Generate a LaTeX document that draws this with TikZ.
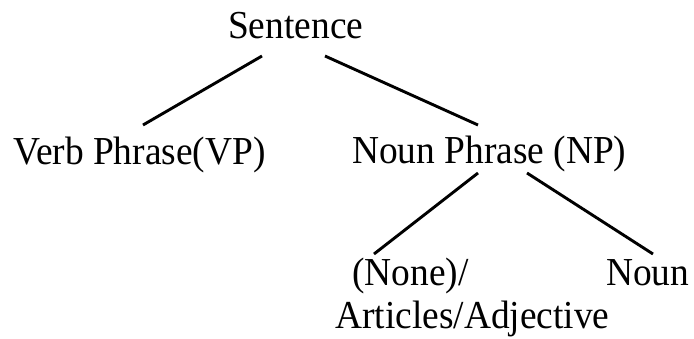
\documentclass[tikz,border=0pt]{standalone}
\usepackage{fontspec}
\usepackage{graphicx}
\setmainfont{Liberation Serif}
\newcommand{\tallt}[1]{\scalebox{1}[1.06]{#1}}
\begin{document}
\begin{tikzpicture}[x=1pt,y=-1pt,
  lbl/.style={anchor=base west,inner sep=0pt,font=\fontsize{37.4}{43}\selectfont},
  edge/.style={line width=2.9pt,black}]
\useasboundingbox (0,0) rectangle (694,338);
\node[lbl] (s) at (228,38) {\tallt{Sentence}};
\node[lbl] (vp) at (13,164) {\tallt{Verb Phrase(VP)}};
\node[lbl] (np) at (352,163) {\tallt{Noun Phrase (NP)}};
\node[lbl] (art) at (352,285) {\tallt{(None)/}};
\node[lbl] (adj) at (335,328) {\tallt{Articles/Adjective}};
\node[lbl] (noun) at (606,285) {\tallt{Noun}};
\draw[edge] ([shift={(34,18)}]s.base west) -- ([shift={(130,-39)}]vp.base west);
\draw[edge] ([shift={(97,18)}]s.base west) -- ([shift={(126,-38)}]np.base west);
\draw[edge] ([shift={(126,10)}]np.base west) -- ([shift={(22,-31)}]art.base west);
\draw[edge] ([shift={(175,10)}]np.base west) -- ([shift={(47,-31)}]noun.base west);
\end{tikzpicture}
\end{document}
